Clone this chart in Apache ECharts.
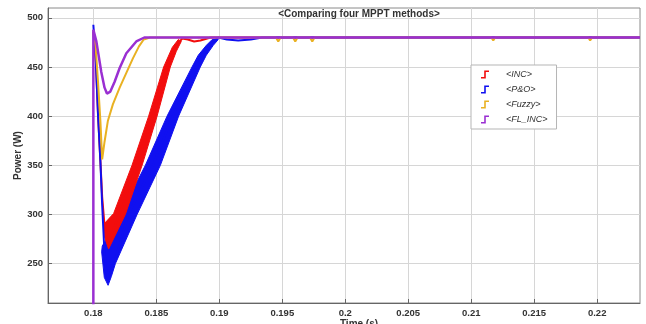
<!DOCTYPE html>
<html>
<head>
<meta charset="utf-8">
<script src="https://cdn.jsdelivr.net/npm/echarts@6/dist/echarts.min.js"></script>
<style>
  html, body { margin: 0; padding: 0; background: #fff; }
  #chart { width: 646px; height: 324px; }
</style>
</head>
<body>
<div id="chart"></div>
<script>
// tick labels
var xTicks = [0.18, 0.185, 0.19, 0.195, 0.2, 0.205, 0.21, 0.215, 0.22];
var yTicks = [250, 300, 350, 400, 450, 500];

// <INC> : centre line [time, power]
var incLine = [[0.18, 486], [0.1802, 455], [0.18037, 402], [0.18056, 354], [0.1807, 318], [0.18088, 290],
  [0.18105, 276], [0.18121, 272], [0.1815, 282], [0.18206, 300], [0.18347, 350], [0.18472, 400],
  [0.18585, 450], [0.18651, 470], [0.18706, 479], [0.1875, 478], [0.188, 476], [0.1885, 477],
  [0.1893, 480], [0.2234, 480]];
// <INC> : edges of the ripple band
var incBandLow = [[0.18087, 278], [0.18121, 265], [0.18254, 300], [0.18387, 350], [0.18506, 400],
  [0.18611, 450], [0.18659, 466], [0.18698, 476]];
var incBandHigh = [[0.18082, 290], [0.18161, 301], [0.18307, 350], [0.18439, 400], [0.18558, 450],
  [0.18627, 470], [0.18675, 478]];

// <P&O>
var pnoLine = [[0.18, 493], [0.1802, 455], [0.18037, 402], [0.18056, 354], [0.1807, 310], [0.18085, 270],
  [0.181, 245], [0.18117, 236], [0.1814, 242], [0.18175, 255], [0.18278, 300], [0.18472, 350],
  [0.18631, 400], [0.18817, 450], [0.18889, 465], [0.18952, 476], [0.18992, 480], [0.1906, 478],
  [0.1915, 477], [0.1925, 478], [0.1934, 480], [0.2234, 480]];
var pnoBandLow = [[0.18066, 262], [0.18087, 236], [0.18117, 228], [0.18143, 237], [0.18175, 250],
  [0.18347, 300], [0.18532, 350], [0.18677, 400], [0.18849, 450], [0.18897, 462], [0.18952, 472],
  [0.18992, 478]];
var pnoBandHigh = [[0.18071, 268], [0.18119, 278], [0.18214, 300], [0.18413, 350], [0.18585, 400],
  [0.18783, 450], [0.18833, 462], [0.18897, 472], [0.18944, 478]];

// <Fuzzy>
var fuzzyLine = [[0.18, 485], [0.18018, 470], [0.18037, 435], [0.18056, 395], [0.1807, 356], [0.18089, 374],
  [0.18115, 395], [0.18155, 412], [0.18209, 429], [0.18262, 444], [0.18315, 459], [0.18362, 471],
  [0.184, 478], [0.1845, 480], [0.1945, 480], [0.19468, 476], [0.19486, 480], [0.19585, 480],
  [0.19603, 476], [0.19621, 480], [0.1972, 480], [0.19738, 476], [0.19756, 480], [0.2116, 480],
  [0.21175, 477], [0.2119, 480], [0.2193, 480], [0.21944, 477], [0.2196, 480], [0.2234, 480]];

// <FL_INC>
var flincLine = [[0.18, 205], [0.18, 488], [0.18024, 476], [0.18063, 445], [0.18089, 429], [0.18108, 423],
  [0.18135, 425], [0.18169, 435], [0.18209, 449], [0.18262, 464], [0.18341, 476], [0.18405, 480],
  [0.2234, 480]];

var RED = '#f20d0d', BLUE = '#1010f0', YEL = '#e9b122', PUR = '#9a2fd2';
var FONT = 'Liberation Sans';
var stepIcon = 'path://M0,8 L4,8 L4,0 L10,0 L10,2 L6,2 L6,10 L0,10 Z';

// ripple band drawn as a polygon (low edge forward, high edge back)
function bandSeries(name, low, high, color) {
  var outline = low.concat(high.slice().reverse());
  return {
    name: name,
    type: 'custom',
    silent: true,
    clip: true,
    data: outline,
    encode: { x: 0, y: 1 },
    renderItem: function (params, api) {
      if (params.dataIndex !== 0) return null;
      return {
        type: 'polygon',
        shape: { points: outline.map(function (p) { return api.coord(p); }) },
        style: { fill: color, stroke: color, lineWidth: 1 }
      };
    }
  };
}

function lineSeries(name, data, color, width) {
  return {
    name: name,
    type: 'line',
    data: data,
    showSymbol: false,
    symbol: 'none',
    clip: true,
    color: color,
    lineStyle: { color: color, width: width }
  };
}

var chart = echarts.init(document.getElementById('chart'));
chart.setOption({
  animation: false,
  backgroundColor: '#fff',
  title: {
    text: '<Comparing four MPPT methods>',
    left: 359,
    top: 9,
    textAlign: 'center',
    padding: 0,
    textStyle: { fontFamily: FONT, fontSize: 10, fontWeight: 'bold', color: '#333' }
  },
  legend: {
    orient: 'vertical',
    left: 471,
    top: 65,
    padding: [5, 9, 5, 10],
    itemGap: 6,
    itemWidth: 8,
    itemHeight: 9,
    backgroundColor: '#fff',
    borderColor: '#b5b5b5',
    borderWidth: 1,
    textStyle: { fontFamily: FONT, fontSize: 9, fontStyle: 'italic', color: '#333', padding: [0, 0, 0, 12] },
    data: [
      { name: '<INC>', icon: stepIcon },
      { name: '<P&O>', icon: stepIcon },
      { name: '<Fuzzy>', icon: stepIcon },
      { name: '<FL_INC>', icon: stepIcon }
    ]
  },
  grid: {
    left: 48, right: 6, top: 8, bottom: 21,
    outerBoundsMode: 'none',
    containLabel: false,
    show: true, borderColor: '#8a8a8a', borderWidth: 1
  },
  xAxis: {
    type: 'value',
    min: 0.1764,
    max: 0.2234,
    minInterval: 0.005,
    maxInterval: 0.005,
    name: 'Time (s)',
    nameLocation: 'middle',
    nameGap: 16,
    nameMoveOverlap: false,
    nameTextStyle: { fontFamily: FONT, fontSize: 10, fontWeight: 'bold', color: '#333', padding: [0, 0, 0, 30] },
    axisLine: { show: true, lineStyle: { color: '#666' } },
    axisTick: { show: true, inside: true, length: 4, customValues: xTicks, lineStyle: { color: '#666' } },
    axisLabel: { customValues: xTicks, margin: 5, fontFamily: FONT, fontSize: 9.5, fontWeight: 'bold', color: '#333' },
    splitLine: { show: true, lineStyle: { color: '#d6d6d6' } }
  },
  yAxis: {
    type: 'value',
    min: 210,
    max: 510,
    minInterval: 50,
    maxInterval: 50,
    name: 'Power (W)',
    nameLocation: 'middle',
    nameGap: 25,
    nameMoveOverlap: false,
    nameTextStyle: { fontFamily: FONT, fontSize: 10, fontWeight: 'bold', color: '#333' },
    axisLine: { show: true, lineStyle: { color: '#666' } },
    axisTick: { show: true, inside: true, length: 4, customValues: yTicks, lineStyle: { color: '#666' } },
    axisLabel: { customValues: yTicks, margin: 5, fontFamily: FONT, fontSize: 9.5, fontWeight: 'bold', color: '#333' },
    splitLine: { show: true, lineStyle: { color: '#d6d6d6' } }
  },
  series: [
    lineSeries('<INC>', incLine, RED, 2),
    bandSeries('pno-band', pnoBandLow, pnoBandHigh, BLUE),
    lineSeries('<P&O>', pnoLine, BLUE, 2),
    bandSeries('inc-band', incBandLow, incBandHigh, RED),
    lineSeries('<Fuzzy>', fuzzyLine, YEL, 2),
    lineSeries('<FL_INC>', flincLine, PUR, 2.5)
  ]
});
</script>
</body>
</html>
